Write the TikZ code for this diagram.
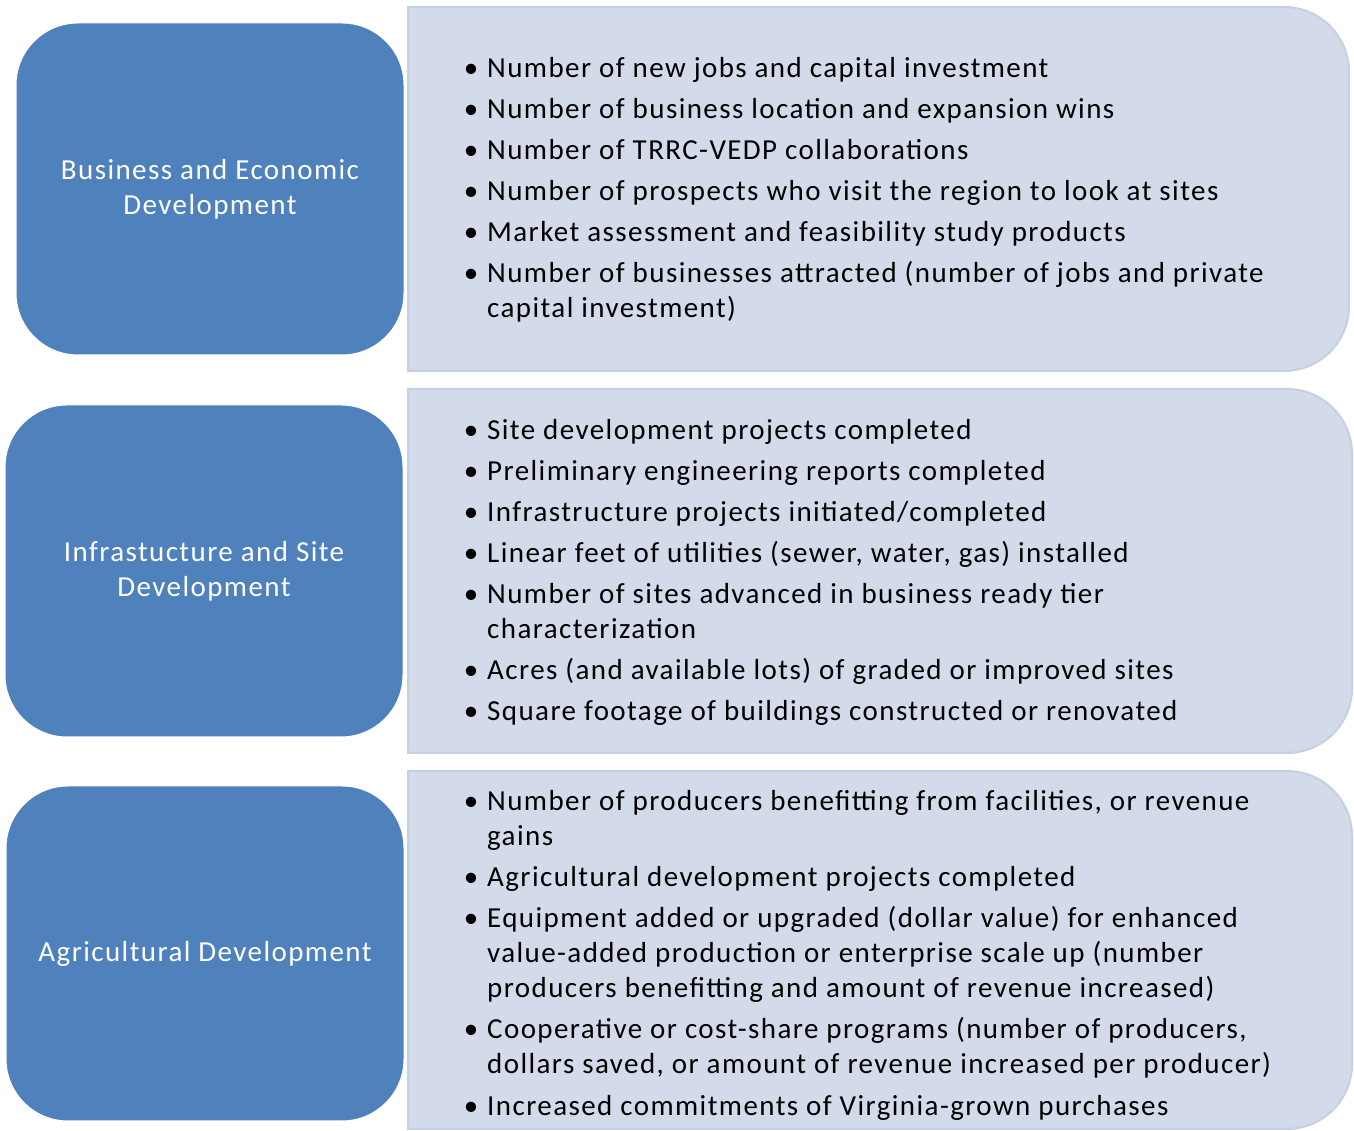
\documentclass[tikz,border=0pt]{standalone}
\usepackage{fontspec}
\setmainfont{Carlito}[LetterSpace=4.9]
\usetikzlibrary{positioning}

\definecolor{areablue}{RGB}{79,129,189}
\definecolor{panelfill}{RGB}{211,219,234}
\definecolor{paneledge}{RGB}{198,208,227}

\tikzset{
  area/.style={draw=white, line width=1pt, fill=areablue, rounded corners=62pt,
    text=white, align=center, font=\fontsize{29}{35}\selectfont},
  panel/.style={fill=panelfill, draw=paneledge, line width=2pt},
  point/.style={anchor=base west, inner sep=0pt, align=left,
    font=\fontsize{29}{35}\selectfont}
}
% right-hand panel: square on the left, rounded on the right
\newcommand{\panel}[4]{%
  \draw[panel] (#1,#2) -- ({#3-65},#2) arc[start angle=90, end angle=0, radius=65pt]
    -- (#3,{#4+65}) arc[start angle=0, end angle=-90, radius=65pt] -- (#1,#4) -- cycle;}
\newcommand{\bul}{\llap{\textbullet\hspace{9pt}}}

\begin{document}
\begin{tikzpicture}[x=1pt, y=1pt]
      \useasboundingbox (0,0) rectangle (1354,1131);

      % panels
      \panel{408}{1124}{1349}{760}
      \panel{408}{742}{1352}{378}
      \panel{408}{360}{1352}{2}

      % the three areas
      \node[area, minimum width=388pt, minimum height=332pt] (business) at (210,942)
        {Business and Economic\\Development};
      \node[area, minimum width=398pt, minimum height=332pt] (infra) at (204,560)
        {Infrastucture and Site\\Development};
      \node[area, minimum width=398pt, minimum height=335pt] (agri) at (205,177.5)
        {Agricultural Development};

      % business measures (multi-line items sit on their last line)
      \node[point] (b1) at (487,1053) {\bul Number of new jobs and capital investment};
      \node[point] (b2) at (487,1012) {\bul Number of business location and expansion wins};
      \node[point] (b3) at (487,971) {\bul Number of TRRC-VEDP collaborations};
      \node[point] (b4) at (487,930) {\bul Number of prospects who visit the region to look at sites};
      \node[point] (b5) at (487,889) {\bul Market assessment and feasibility study products};
      \node[point] (b6) at (487,813) {\bul Number of businesses attracted (number of jobs and private\\capital investment)};

      % infrastructure measures
      \node[point] (i1) at (487,691) {\bul Site development projects completed};
      \node[point] (i2) at (487,650) {\bul Preliminary engineering reports completed};
      \node[point] (i3) at (487,609) {\bul Infrastructure projects initiated/completed};
      \node[point] (i4) at (487,568) {\bul Linear feet of utilities (sewer, water, gas) installed};
      \node[point] (i5) at (487,492) {\bul Number of sites advanced in business ready tier\\characterization};
      \node[point] (i6) at (487,451) {\bul Acres (and available lots) of graded or improved sites};
      \node[point] (i7) at (487,410) {\bul Square footage of buildings constructed or renovated};

      % agricultural measures
      \node[point] (a1) at (487,285) {\bul Number of producers benefitting from facilities, or revenue\\gains};
      \node[point] (a2) at (487,244) {\bul Agricultural development projects completed};
      \node[point] (a3) at (487,133) {\bul Equipment added or upgraded (dollar value) for enhanced\\value-added production or enterprise scale up (number\\producers benefitting and amount of revenue increased)};
      \node[point] (a4) at (487,57) {\bul Cooperative or cost-share programs (number of producers,\\dollars saved, or amount of revenue increased per producer)};
      \node[point] (a5) at (487,15) {\bul Increased commitments of Virginia-grown purchases};
\end{tikzpicture}
\end{document}
